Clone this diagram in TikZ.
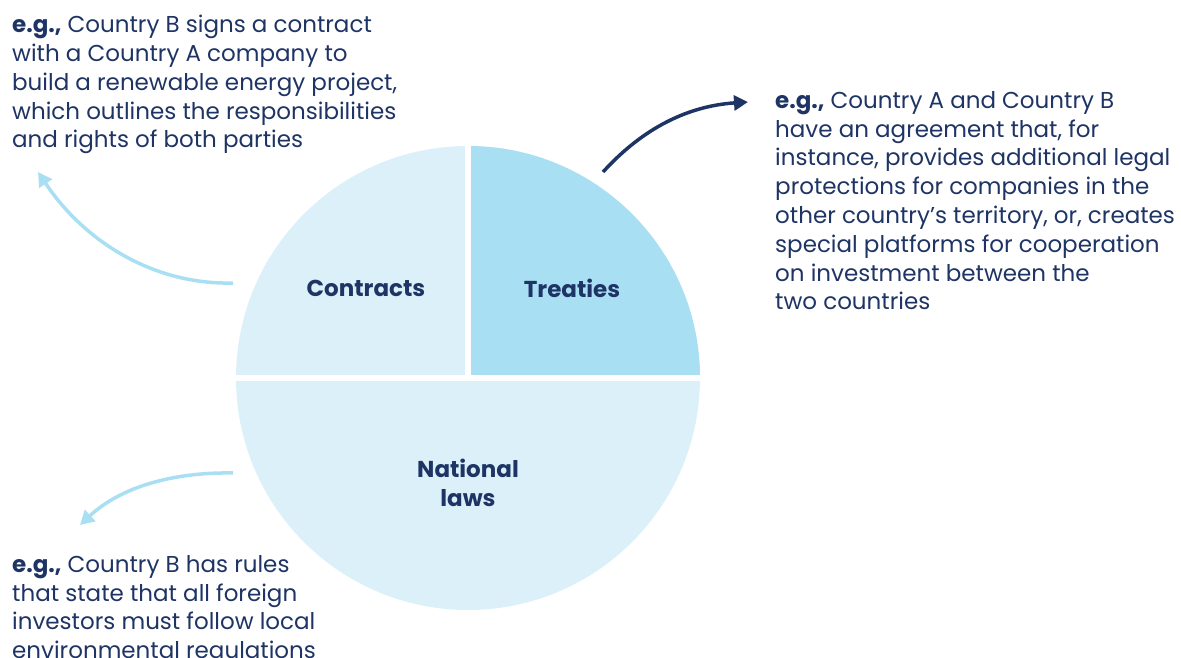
\documentclass[tikz,border=0pt]{standalone}
\usepackage{fontspec}
\setmainfont{Poppins}
\usetikzlibrary{arrows.meta}
\definecolor{navy}{HTML}{1E3464}
\definecolor{paleblue}{HTML}{DBF0F9}
\definecolor{skyblue}{HTML}{A9DFF3}
\begin{document}
\begin{tikzpicture}[x=1pt,y=-1pt,
  bodytext/.style={anchor=north west,inner sep=0pt,text=navy,align=left,
    font=\fontsize{23}{28.8}\selectfont},
  slicelabel/.style={text=navy,align=center,inner sep=0pt,
    font=\fontsize{23}{29}\selectfont\bfseries},
  lightarrow/.style={draw=skyblue,line width=3.5pt,
    -{Triangle[length=14pt,width=15pt]}},
  darkarrow/.style={draw=navy,line width=3.5pt,
    -{Triangle[length=14pt,width=15pt]}},
  gap/.style={draw=white,line width=6pt}]
\useasboundingbox (0,0) rectangle (1181,658);

% pie: full disc, treaties quadrant, white separators
\coordinate (c) at (468,378);
\fill[paleblue] (c) circle[radius=232];
\fill[skyblue] (c) -- ++(232,0) arc[start angle=0,end angle=-90,radius=232] -- cycle;
\draw[gap] (236,378) -- (700,378);
\draw[gap] (468,146) -- (c);

% slice labels
\node[slicelabel] (contracts) at (366,288) {Contracts};
\node[slicelabel] (treaties) at (572,288) {Treaties};
\node[slicelabel] (national) at (468,483) {National\\laws};

% example texts
\node[bodytext] (exA) at (12,15) {\textbf{e.g.,} Country B signs a contract\\
with a Country A company to\\
build a renewable energy project,\\
which outlines the responsibilities\\
and rights of both parties};
\node[bodytext] (exB) at (775,91) {\textbf{e.g.,} Country A and Country B\\
have an agreement that, for\\
instance, provides additional legal\\
protections for companies in the\\
other country’s territory, or, creates\\
special platforms for cooperation\\
on investment between the\\
two countries};
\node[bodytext] (exC) at (12,555) {\textbf{e.g.,} Country B has rules\\
that state that all foreign\\
investors must follow local\\
environmental regulations};

% connector end points
\coordinate (a1s) at (233,283);
\coordinate (a1e) at (38,172);
\coordinate (a2s) at (603,172);
\coordinate (a2e) at (748,102);
\coordinate (a3s) at (233,473);
\coordinate (a3e) at (80,525);

\draw[lightarrow] (a1s) .. controls (153,285) and (84,241) .. (a1e);
\draw[darkarrow] (a2s) .. controls (643,128) and (688,106) .. (a2e);
\draw[lightarrow] (a3s) .. controls (180,472) and (124,484) .. (a3e);
\end{tikzpicture}
\end{document}
